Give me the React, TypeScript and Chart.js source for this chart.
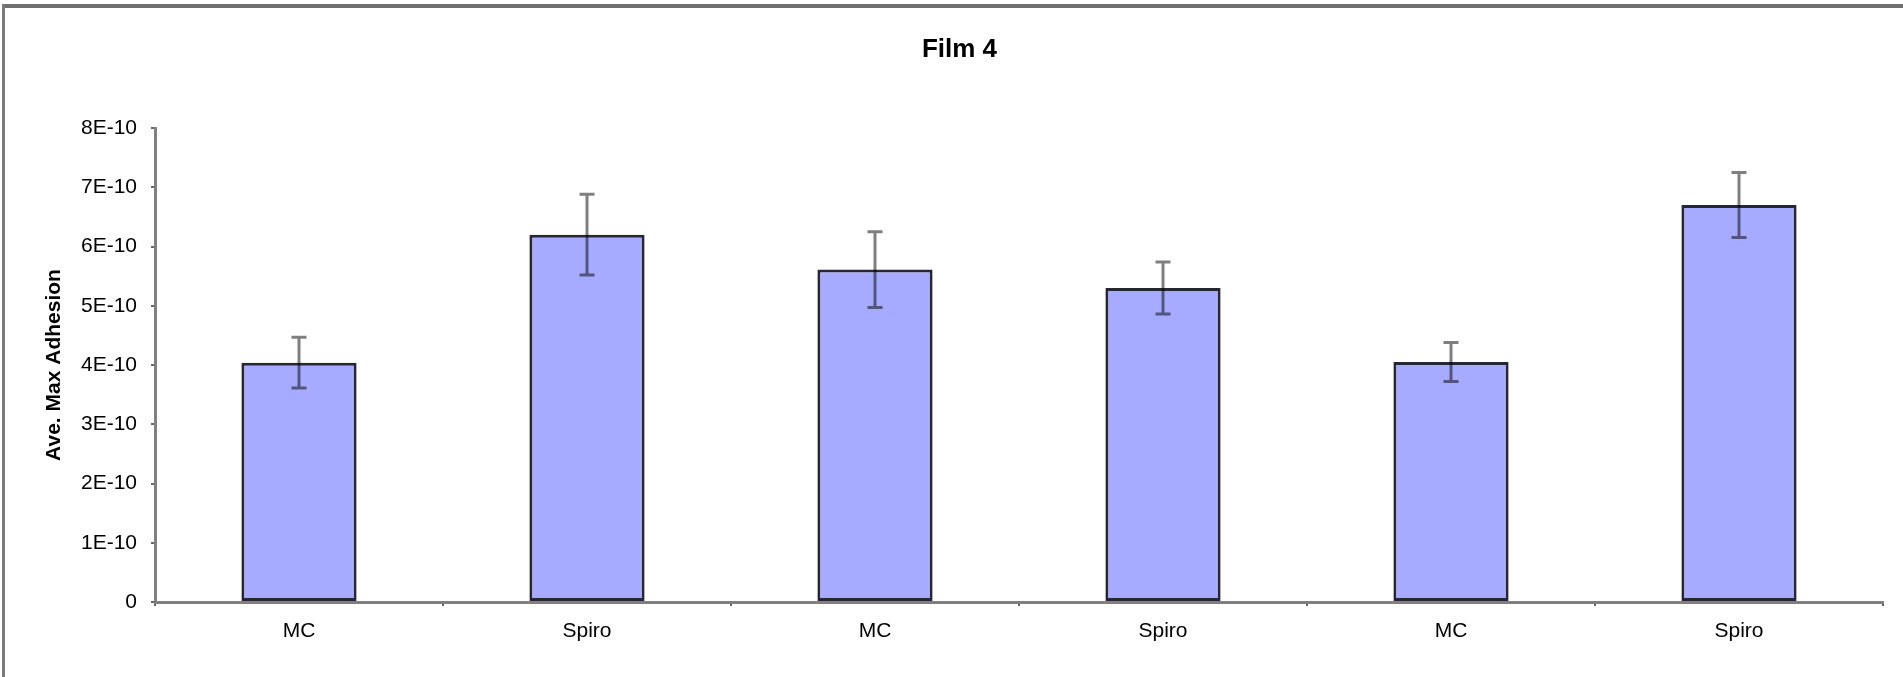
import React, { useEffect, useRef } from 'react';
import { Chart, registerables } from 'chart.js';

Chart.register(...registerables);

// Film 4 — average maximum adhesion per sample, with error bars
const categories = ['MC', 'Spiro', 'MC', 'Spiro', 'MC', 'Spiro'];
const meanAdhesion = [4.04e-10, 6.2e-10, 5.61e-10, 5.3e-10, 4.05e-10, 6.7e-10];
const adhesionError = [0.43e-10, 0.68e-10, 0.64e-10, 0.44e-10, 0.33e-10, 0.55e-10];
const yTickValues = [0, 1e-10, 2e-10, 3e-10, 4e-10, 5e-10, 6e-10, 7e-10, 8e-10];
const yTickLabels = ['0', '1E-10', '2E-10', '3E-10', '4E-10', '5E-10', '6E-10', '7E-10', '8E-10'];

const FONT = "'Liberation Sans', Arial, sans-serif";

// Outer frame of the chart object (left and top edges)
const framePlugin = {
  id: 'frame',
  beforeDraw(chart: any) {
    const { ctx } = chart;
    ctx.save();
    ctx.fillStyle = '#ffffff';
    ctx.fillRect(0, 0, chart.width, chart.height);
    ctx.strokeStyle = '#6e6e6e';
    ctx.lineWidth = 4;
    ctx.beginPath();
    ctx.moveTo(2, 6);
    ctx.lineTo(chart.width, 6);
    ctx.stroke();
    ctx.strokeStyle = '#7a7a7a';
    ctx.lineWidth = 3;
    ctx.beginPath();
    ctx.moveTo(3.5, 4);
    ctx.lineTo(3.5, chart.height);
    ctx.stroke();
    ctx.restore();
  },
};

// Symmetric error bars drawn over each bar
const errorBarPlugin = {
  id: 'errorBars',
  afterDatasetsDraw(chart: any) {
    const { ctx } = chart;
    const yScale = chart.scales.y;
    const meta = chart.getDatasetMeta(0);
    ctx.save();
    ctx.strokeStyle = 'rgba(0,0,0,0.5)';
    ctx.lineWidth = 3;
    meta.data.forEach((bar: any, i: number) => {
      const x = bar.x;
      const hi = yScale.getPixelForValue(meanAdhesion[i] + adhesionError[i]);
      const lo = yScale.getPixelForValue(meanAdhesion[i] - adhesionError[i]);
      const cap = 7.5;
      ctx.beginPath();
      ctx.moveTo(x, hi);
      ctx.lineTo(x, lo);
      ctx.moveTo(x - cap, hi);
      ctx.lineTo(x + cap, hi);
      ctx.moveTo(x - cap, lo);
      ctx.lineTo(x + cap, lo);
      ctx.stroke();
    });
    ctx.restore();
  },
};

export default function App() {
  const canvasRef = useRef<HTMLCanvasElement | null>(null);

  useEffect(() => {
    if (!canvasRef.current) return;
    const chart = new Chart(canvasRef.current, {
      type: 'bar',
      data: {
        labels: categories,
        datasets: [
          {
            data: meanAdhesion,
            backgroundColor: '#a7abff',
            borderColor: '#262636',
            borderWidth: 3,
            borderSkipped: false,
            barPercentage: 0.4,
            categoryPercentage: 1,
          },
        ],
      },
      options: {
        responsive: false,
        animation: false,
        devicePixelRatio: 1,
        layout: { padding: { left: 36, right: 20, top: 0, bottom: 0 } },
        plugins: {
          legend: { display: false },
          tooltip: { enabled: false },
          title: {
            display: true,
            text: 'Film 4',
            color: '#000',
            font: { family: FONT, size: 26, weight: 'bold' },
            padding: { top: 34.4, bottom: 62.4 },
          },
        },
        scales: {
          x: {
            grid: {
              display: true,
              drawOnChartArea: false,
              drawTicks: true,
              tickLength: 4,
              color: '#666',
              lineWidth: 2,
              offset: true,
            },
            border: { display: true, color: '#808080', width: 3 },
            ticks: {
              color: '#000',
              font: { family: FONT, size: 21 },
              padding: 13,
              maxRotation: 0,
            },
            afterFit: (scale: any) => {
              scale.height = 75;
            },
          },
          y: {
            min: 0,
            max: 8e-10,
            afterBuildTicks: (scale: any) => {
              scale.ticks = yTickValues.map((v) => ({ value: v }));
            },
            grid: {
              display: true,
              drawOnChartArea: false,
              drawTicks: true,
              tickLength: 4,
              color: '#666',
              lineWidth: 2,
            },
            border: { display: true, color: '#808080', width: 3 },
            ticks: {
              color: '#000',
              font: { family: FONT, size: 21 },
              padding: 14,
              callback: (_v: any, index: number) => yTickLabels[index] ?? '',
            },
            title: {
              display: true,
              text: 'Ave. Max Adhesion',
              color: '#000',
              font: { family: FONT, size: 21, weight: 'bold' },
              padding: { top: 6, bottom: 0 },
            },
            afterFit: (scale: any) => {
              scale.width = 119;
            },
          },
        },
      },
      plugins: [framePlugin, errorBarPlugin],
    });
    return () => chart.destroy();
  }, []);

  return (
    <div style={{ position: 'absolute', left: 0, top: 0, width: 1903, height: 677 }}>
      <canvas ref={canvasRef} width={1903} height={677} style={{ width: '1903px', height: '677px' }} />
    </div>
  );
}
